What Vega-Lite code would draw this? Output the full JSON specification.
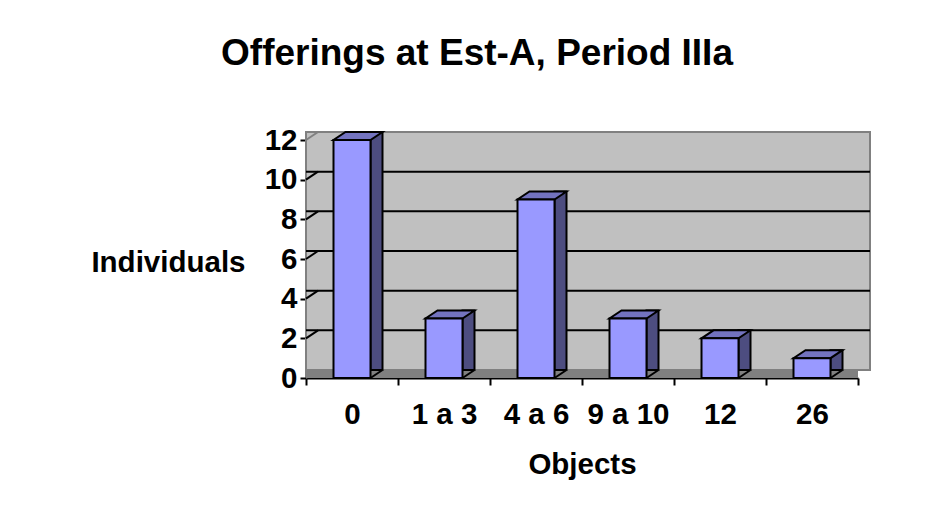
{
  "$schema": "https://vega.github.io/schema/vega-lite/v6.json",
  "width": 552,
  "height": 238,
  "autosize": "none",
  "padding": {"left": 306, "top": 140, "right": 76, "bottom": 138},
  "background": "white",
  "config": {
    "view": {"stroke": null},
    "font": "Liberation Sans",
    "axis": {"labelOverlap": false, "grid": false, "tickWidth": 2, "tickColor": "black", "domainColor": "black", "domainWidth": 2, "labelFont": "Liberation Sans", "labelFontSize": 29.5, "labelFontWeight": "bold", "labelColor": "black", "titleFont": "Liberation Sans", "titleFontSize": 29.5, "titleFontWeight": "bold", "titleColor": "black"},
    "axisY": {"tickSize": 6, "labelPadding": 3, "titleAngle": 0, "titleAlign": "right", "titleBaseline": "middle", "titleX": -61, "titleY": 122},
    "axisX": {"labelAngle": 0, "labelAlign": "center", "tickSize": 7, "labelPadding": 15, "titlePadding": 22}
  },
  "title": {"text": "Offerings at Est-A, Period IIIa", "font": "Liberation Sans", "fontSize": 37, "fontWeight": "bold", "color": "black", "anchor": "middle", "frame": "group", "dx": -105, "offset": 52},
  "datasets": {
    "bars": [
      {"objects": "0", "individuals": 12},
      {"objects": "1 a 3", "individuals": 3},
      {"objects": "4 a 6", "individuals": 9},
      {"objects": "9 a 10", "individuals": 3},
      {"objects": "12", "individuals": 2},
      {"objects": "26", "individuals": 1}
    ],
    "wall": [{"lo": 0, "hi": 12}],
    "grid": [{"v": 2}, {"v": 4}, {"v": 6}, {"v": 8}, {"v": 10}],
    "edges": [{"v": 0}, {"v": 12}]
  },
  "layer": [
    {
      "data": {"name": "wall"},
      "mark": {"type": "rect", "fill": "#c0c0c0", "strokeWidth": 0, "y2Offset": -8, "x2Offset": 12},
      "encoding": {
        "y": {"field": "lo", "type": "quantitative", "title": "Individuals",
          "scale": {"domain": [0, 12], "nice": false, "zero": true},
          "axis": {"values": [0, 2, 4, 6, 8, 10, 12], "tickCount": 12, "labelOverlap": false}},
        "y2": {"field": "hi"}
      }
    },
    {
      "data": {"name": "wall"},
      "mark": {"type": "rect", "fill": "#808080", "strokeWidth": 0, "y2Offset": -8, "x2Offset": 12},
      "encoding": {
        "y": {"field": "lo", "type": "quantitative", "title": "Individuals"},
        "y2": {"field": "lo"}
      }
    },
    {
      "data": {"name": "wall"},
      "mark": {"type": "rect", "fill": "#c0c0c0", "stroke": "#808080", "strokeWidth": 2, "yOffset": -8, "y2Offset": -8, "xOffset": 12, "x2Offset": 12},
      "encoding": {
        "y": {"field": "lo", "type": "quantitative", "title": "Individuals"},
        "y2": {"field": "hi"}
      }
    },
    {
      "data": {"name": "grid"},
      "mark": {"type": "rule", "stroke": "black", "strokeWidth": 2, "yOffset": -8, "xOffset": 12, "x2Offset": 12},
      "encoding": {
        "y": {"field": "v", "type": "quantitative", "title": "Individuals"}
      }
    },
    {
      "data": {"name": "grid"},
      "mark": {"type": "point", "shape": "M0 0L12 -8", "size": 4, "filled": false, "stroke": "black", "strokeWidth": 2, "opacity": 1, "xOffset": -46},
      "encoding": {
        "x": {"datum": "0", "type": "nominal", "title": "Objects"},
        "y": {"field": "v", "type": "quantitative", "title": "Individuals"}
      }
    },
    {
      "data": {"name": "edges"},
      "mark": {"type": "point", "shape": "M0 0L12 -8", "size": 4, "filled": false, "stroke": "#808080", "strokeWidth": 2, "opacity": 1, "xOffset": -46},
      "encoding": {
        "x": {"datum": "0", "type": "nominal", "title": "Objects"},
        "y": {"field": "v", "type": "quantitative", "title": "Individuals"}
      }
    },
    {
      "data": {"name": "bars"},
      "mark": {"type": "bar", "width": 12, "xOffset": 24.5, "yOffset": -8, "fill": "#4d4d80", "stroke": "black", "strokeWidth": 2},
      "encoding": {
        "x": {"field": "objects", "type": "nominal", "title": "Objects",
          "scale": {"type": "band", "domain": ["0", "1 a 3", "4 a 6", "9 a 10", "12", "26"], "paddingInner": 0, "paddingOuter": 0},
          "axis": {"tickBand": "extent", "labelAlign": "center"}},
        "y": {"field": "individuals", "type": "quantitative", "title": "Individuals"}
      }
    },
    {
      "data": {"name": "bars"},
      "mark": {"type": "point", "shape": "M0 0L12 -8L12 0Z", "size": 4, "filled": true, "fill": "#808080", "strokeWidth": 0, "opacity": 1, "xOffset": 18.5},
      "encoding": {
        "x": {"field": "objects", "type": "nominal", "title": "Objects"},
        "y": {"datum": 0, "type": "quantitative", "title": "Individuals"}
      }
    },
    {
      "data": {"name": "bars"},
      "mark": {"type": "point", "shape": "M0 0L12 -8", "size": 4, "filled": false, "stroke": "black", "strokeWidth": 2, "opacity": 1, "xOffset": 18.5},
      "encoding": {
        "x": {"field": "objects", "type": "nominal", "title": "Objects"},
        "y": {"datum": 0, "type": "quantitative", "title": "Individuals"}
      }
    },
    {
      "data": {"name": "bars"},
      "mark": {"type": "point", "shape": "M0 0L37 0L49 -8L12 -8Z", "size": 4, "filled": true, "fill": "#7373bf", "stroke": "black", "strokeWidth": 2, "opacity": 1, "xOffset": -18.5},
      "encoding": {
        "x": {"field": "objects", "type": "nominal", "title": "Objects"},
        "y": {"field": "individuals", "type": "quantitative", "title": "Individuals"}
      }
    },
    {
      "data": {"name": "bars"},
      "mark": {"type": "bar", "width": 37, "fill": "#9999ff", "stroke": "black", "strokeWidth": 2},
      "encoding": {
        "x": {"field": "objects", "type": "nominal", "title": "Objects"},
        "y": {"field": "individuals", "type": "quantitative", "title": "Individuals"}
      }
    }
  ]
}
